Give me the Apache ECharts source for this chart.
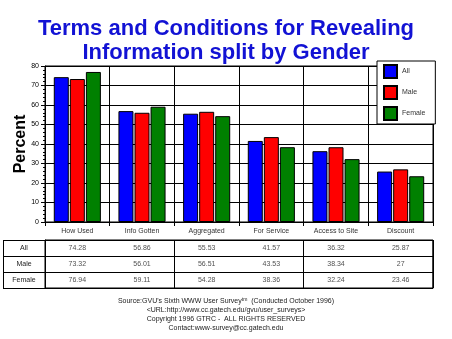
<!DOCTYPE html>
<html><head><meta charset="utf-8">
<script src="https://cdn.jsdelivr.net/npm/echarts@6/dist/echarts.min.js"></script>
<style>html,body{margin:0;padding:0;background:#fff}#c{width:452px;height:339px}</style>
</head><body><div id="c"></div>
<script>
const categories = ['How Used', 'Info Gotten', 'Aggregated', 'For Service', 'Access to Site', 'Discount'];
const seriesNames = ['All', 'Male', 'Female'];
const allValues = [74.28, 56.86, 55.53, 41.57, 36.32, 25.87];
const maleValues = [73.32, 56.01, 56.51, 43.53, 38.34, 27];
const femaleValues = [76.94, 59.11, 54.28, 38.36, 32.24, 23.46];
const yTicks = [0, 80, 10];
const colors = ['#0000ff', '#ff0000', '#008000'];
const FONT = 'Liberation Sans, Arial, sans-serif';

const valueSets = [allValues, maleValues, femaleValues];
const chart = echarts.init(document.getElementById('c'), null, {renderer: 'canvas'});

const barSeries = seriesNames.map((n, i) => ({
  name: n, type: 'bar', xAxisIndex: 0, yAxisIndex: 0,
  data: valueSets[i], barWidth: 15, barGap: '7%',
  itemStyle: {color: colors[i], borderColor: '#000', borderWidth: 1},
  emphasis: {disabled: true}
}));

const tableSeries = seriesNames.map((n, r) => ({
  name: 'table_' + n, type: 'scatter', xAxisIndex: 1, yAxisIndex: 1,
  symbol: 'rect', symbolSize: 1, itemStyle: {color: 'rgba(0,0,0,0)'},
  data: valueSets[r].map((v, c) => [c, r, v]),
  label: {show: true, position: 'inside', formatter: p => String(p.value[2]),
          fontFamily: FONT, fontSize: 7, color: '#222'},
  emphasis: {disabled: true}, silent: true
}));

chart.setOption({
  animation: false,
  backgroundColor: '#fff',
  title: [{
    text: 'Terms and Conditions for Revealing\nInformation split by Gender',
    left: 'center', top: 12,
    textStyle: {fontFamily: FONT, fontSize: 22, fontWeight: 'bold', color: '#1212d4', lineHeight: 24}
  }, {
    text: "Source:GVU's Sixth WWW User Survey{sup|tm}  (Conducted October 1996)\n<URL:http://www.cc.gatech.edu/gvu/user_surveys>\nCopyright 1996 GTRC -  ALL RIGHTS RESERVED\nContact:www-survey@cc.gatech.edu",
    left: 'center', top: 292,
    textStyle: {fontFamily: FONT, fontSize: 7, fontWeight: 'normal', color: '#222', lineHeight: 9,
      rich: {sup: {fontSize: 5, fontFamily: FONT, color: '#222', padding: [0, 0, 4, 0]}}}
  }],
  legend: {
    data: seriesNames, orient: 'vertical', left: 377, top: 61,
    padding: [3, 10, 3, 6], itemGap: 6, itemWidth: 13, itemHeight: 13,
    icon: 'rect', backgroundColor: '#fff', borderColor: '#000', borderWidth: 1,
    textStyle: {fontFamily: FONT, fontSize: 7, color: '#333'}, selectedMode: false
  },
  grid: [
    {left: 45, right: 19, top: 66, bottom: 117, show: true, borderColor: '#000', borderWidth: 1, outerBoundsMode: 'none'},
    {left: 45, right: 19, top: 240, height: 48, show: true, borderColor: '#000', borderWidth: 1, outerBoundsMode: 'none'}
  ],
  xAxis: [{
    gridIndex: 0, type: 'category', data: categories,
    axisLine: {lineStyle: {color: '#000'}},
    axisTick: {show: true, length: 4, lineStyle: {color: '#000'}},
    splitLine: {show: true, lineStyle: {color: '#000', width: 1}},
    axisLabel: {interval: 0, margin: 6, fontFamily: FONT, fontSize: 7, color: '#333'}
  }, {
    gridIndex: 1, type: 'category', data: categories,
    axisLine: {show: false}, axisTick: {show: false}, axisLabel: {show: false},
    splitLine: {show: true, lineStyle: {color: '#000', width: 1}}
  }],
  yAxis: [{
    gridIndex: 0, type: 'value', min: yTicks[0], max: yTicks[1], interval: yTicks[2],
    name: 'Percent', nameLocation: 'middle', nameGap: 16, nameMoveOverlap: false,
    nameTextStyle: {fontFamily: FONT, fontSize: 16, fontWeight: 'bold', color: '#000'},
    axisLine: {show: true, lineStyle: {color: '#000'}},
    axisTick: {show: true, length: 4, lineStyle: {color: '#000'}},
    minorTick: {show: true, splitNumber: 5, length: 2, lineStyle: {color: '#000'}},
    splitLine: {show: true, lineStyle: {color: '#000', width: 1}},
    axisLabel: {margin: 6, fontFamily: FONT, fontSize: 7, color: '#000'}
  }, {
    gridIndex: 1, type: 'category', data: seriesNames, inverse: true,
    axisLine: {show: true, lineStyle: {color: '#000'}},
    axisTick: {show: true, length: 42, lineStyle: {color: '#000'}},
    splitLine: {show: true, lineStyle: {color: '#000', width: 1}},
    axisLabel: {margin: 21, align: 'center', fontFamily: FONT, fontSize: 7, color: '#222'}
  }],
  graphic: [{
    type: 'rect', z: 100, silent: true,
    shape: {x: 3.5, y: 240.5, width: 429.5, height: 48},
    style: {fill: 'none', stroke: '#000', lineWidth: 1}
  }],
  series: barSeries.concat(tableSeries)
});
</script></body></html>
